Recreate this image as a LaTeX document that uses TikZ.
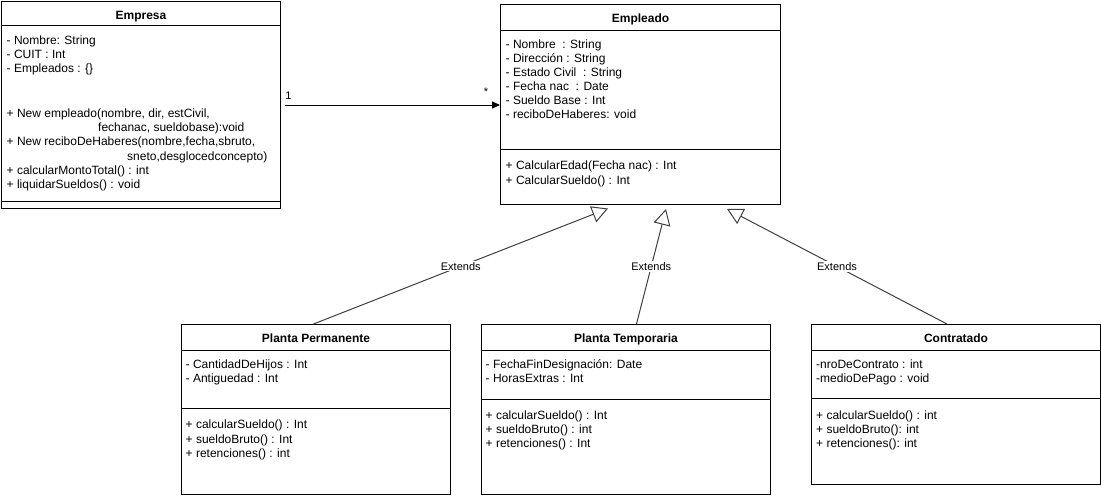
\documentclass[tikz,border=0pt]{standalone}
\usepackage{fontspec}
\setmainfont{Liberation Sans}
\usetikzlibrary{arrows.meta,calc}

\begin{document}
\begin{tikzpicture}[x=1pt,y=-1pt,
  classbox/.style={draw=black, line width=1pt, fill=white, inner sep=0pt, anchor=north west},
  rule/.style={draw=black, line width=1pt},
  title/.style={anchor=base, inner sep=0pt, font=\fontsize{12}{14}\selectfont\bfseries},
  member/.style={anchor=base west, inner sep=0pt, font=\fontsize{12}{14}\selectfont},
  assoc/.style={draw=black, line width=1pt, -{Triangle[length=8pt,width=7pt]}},
  extends/.style={draw=black!75, line width=1pt, -{Triangle[length=16pt,width=17pt,fill=white]}},
  elabel/.style={fill=white, inner sep=1pt, font=\fontsize{11}{13}\selectfont},
  mult/.style={inner sep=0pt, font=\fontsize{11}{13}\selectfont}]

\useasboundingbox (0,0) rectangle (1101,498);
\fill[white] (0,0) rectangle (1101,498);

% ---------- class boxes ----------
\node[classbox, minimum width=279pt, minimum height=207pt] (empresa) at (1,1) {};
\node[classbox, minimum width=280pt, minimum height=200pt] (empleado) at (500,4) {};
\node[classbox, minimum width=269pt, minimum height=170pt] (perm) at (181,324) {};
\node[classbox, minimum width=289pt, minimum height=170pt] (temp) at (481,324) {};
\node[classbox, minimum width=289pt, minimum height=160pt] (contr) at (811,324) {};

% compartment rules
\draw[rule] ($(empresa.north west)+(0,24)$) -- ($(empresa.north east)+(0,24)$);
\draw[rule] ($(empresa.south west)+(0,-8)$) -- ($(empresa.south east)+(0,-8)$);
\draw[rule] ($(empleado.north west)+(0,26)$) -- ($(empleado.north east)+(0,26)$);
\draw[rule] ($(empleado.north west)+(0,145)$) -- ($(empleado.north east)+(0,145)$);
\draw[rule] ($(perm.north west)+(0,26)$) -- ($(perm.north east)+(0,26)$);
\draw[rule] ($(perm.north west)+(0,84)$) -- ($(perm.north east)+(0,84)$);
\draw[rule] ($(temp.north west)+(0,26)$) -- ($(temp.north east)+(0,26)$);
\draw[rule] ($(temp.north west)+(0,75)$) -- ($(temp.north east)+(0,75)$);
\draw[rule] ($(contr.north west)+(0,26)$) -- ($(contr.north east)+(0,26)$);
\draw[rule] ($(contr.north west)+(0,74)$) -- ($(contr.north east)+(0,74)$);

% ---------- titles ----------
\node[title] (empresa-title) at (empresa.north |- 0,19.5) {Empresa};
\node[title] (empleado-title) at (empleado.north |- 0,22) {Empleado};
\node[title] (perm-title) at (perm.north |- 0,342.5) {Planta Permanente};
\node[title] (temp-title) at (temp.north |- 0,342.5) {Planta Temporaria};
\node[title] (contr-title) at (contr.north |- 0,342.5) {Contratado};

% ---------- Empresa ----------
\foreach \memb [count=\i from 0] in {{- Nombre: String},{- CUIT : Int},{- Empleados : \{\}}}
  \node[member] (empresa-a\i) at (6.5,{44+14.2*\i}) {\memb};
\foreach \dx/\memb [count=\i from 0] in {
    0/{+ New empleado(nombre, dir, estCivil,},
    91.5/{fechanac, sueldobase):void},
    0/{+ New reciboDeHaberes(nombre,fecha,sbruto,},
    120.5/{sneto,desglocedconcepto)},
    0/{+ calcularMontoTotal() : int},
    0/{+ liquidarSueldos() : void}}
  \node[member] (empresa-m\i) at ({6.5+\dx},{117.5+14.2*\i}) {\memb};

% ---------- Empleado ----------
\foreach \memb [count=\i from 0] in {{- Nombre~ : String},{- Dirección : String},
    {- Estado Civil~ : String},{- Fecha nac~ : Date},{- Sueldo Base : Int},
    {- reciboDeHaberes: void}}
  \node[member] (empleado-a\i) at (505.5,{48.3+14.1*\i}) {\memb};
\foreach \memb [count=\i from 0] in {{+ CalcularEdad(Fecha nac) : Int},{+ CalcularSueldo() : Int}}
  \node[member] (empleado-m\i) at (505.5,{169.8+14.4*\i}) {\memb};

% ---------- Planta Permanente ----------
\foreach \memb [count=\i from 0] in {{- CantidadDeHijos : Int},{- Antiguedad : Int}}
  \node[member] (perm-a\i) at (185.5,{368.5+14.2*\i}) {\memb};
\foreach \memb [count=\i from 0] in {{+ calcularSueldo() : Int},{+ sueldoBruto() : Int},{+ retenciones() : int}}
  \node[member] (perm-m\i) at (185.5,{428.8+14.3*\i}) {\memb};

% ---------- Planta Temporaria ----------
\foreach \memb [count=\i from 0] in {{- FechaFinDesignación: Date},{- HorasExtras : Int}}
  \node[member] (temp-a\i) at (485.5,{368.5+14.2*\i}) {\memb};
\foreach \memb [count=\i from 0] in {{+ calcularSueldo() : Int},{+ sueldoBruto() : int},{+ retenciones() : Int}}
  \node[member] (temp-m\i) at (485.5,{419.5+14.2*\i}) {\memb};

% ---------- Contratado ----------
\foreach \memb [count=\i from 0] in {{-nroDeContrato : int},{-medioDePago : void}}
  \node[member] (contr-a\i) at (816,{368.5+14.2*\i}) {\memb};
\foreach \memb [count=\i from 0] in {{+ calcularSueldo() : int},{+ sueldoBruto(): int},{+ retenciones(): int}}
  \node[member] (contr-m\i) at (816,{419.5+14.2*\i}) {\memb};

% ---------- association Empresa -> Empleado ----------
\draw[assoc] ([xshift=4pt]empresa.east) -- (empresa.east -| empleado.west);
\node[mult] (mult-one) at (288.5,96) {1};
\node[mult] (mult-many) at (486,92) {*};

% ---------- generalisations ----------
\coordinate (tip-perm) at (608,208.5);
\coordinate (tip-temp) at (666,209);
\coordinate (tip-contr) at (727,209);
\draw[extends] ([xshift=-2.5pt]perm.north) -- node[elabel] (lbl-perm) {Extends} (tip-perm);
\draw[extends] ([xshift=10.5pt]temp.north) -- node[elabel] (lbl-temp) {Extends} (tip-temp);
\draw[extends] ([xshift=-9pt]contr.north) -- node[elabel] (lbl-contr) {Extends} (tip-contr);

\end{tikzpicture}
\end{document}
